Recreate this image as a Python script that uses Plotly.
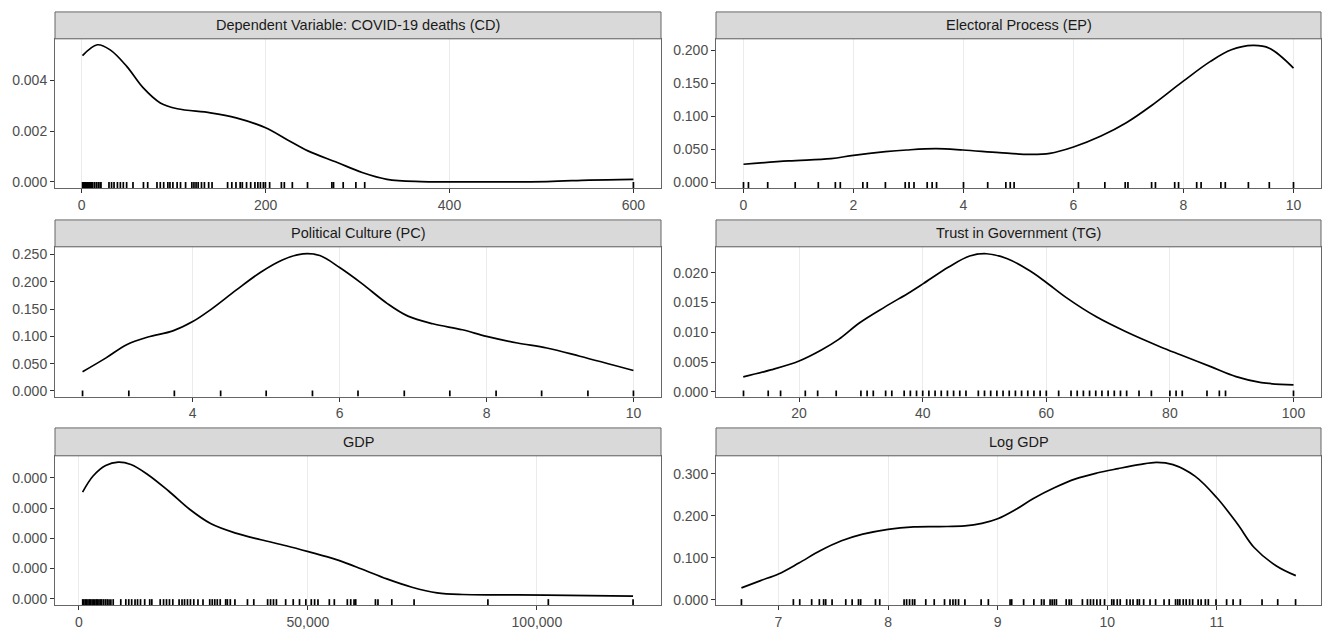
import plotly.graph_objects as go

# ---------------- data ----------------
titles = ["Dependent Variable: COVID-19 deaths (CD)", "Electoral Process (EP)",
          "Political Culture (PC)", "Trust in Government (TG)", "GDP", "Log GDP"]

cd_x = [0.9, 17, 31, 49, 67, 85.5, 104, 140, 168, 200, 223, 246, 278, 305, 332, 369, 400, 506, 552, 600]
cd_y = [0.00497, 0.0054, 0.0052, 0.00455, 0.0037, 0.00311, 0.00288, 0.00272, 0.00252, 0.00213,
        0.00167, 0.00122, 0.00076, 0.00037, 0.0001, 0.00001, 0.0, 0.00001, 0.00007, 0.0001]
cd_rug = [1, 2, 3, 4, 5, 6, 7, 8, 9, 10, 11, 12, 14, 16, 18, 20, 21,
          29.7, 32.5, 35.2, 38.9, 42.1, 45.3, 48.9, 55.8, 67.2, 71.8, 81.9, 85.5, 89.2, 93.7, 96,
          99.2, 103.8, 107.5, 113, 119.8, 122.1, 124.4, 126.7, 130.3, 133.5, 138.1, 141.8, 158.7,
          163.3, 167.8, 172.4, 174.7, 179.3, 183.8, 188.4, 191.6, 194.4, 197.6, 199.8, 204.4,
          217.2, 220.4, 229.1, 245.6, 272.1, 273.9, 284.4, 298.2, 307.8, 600]

ep_x = [0, 0.82, 1.59, 2.0, 2.58, 2.97, 3.5, 3.99, 4.65, 5.19, 5.57, 6.0, 6.5, 6.96, 7.42, 7.99,
        8.49, 8.87, 9.26, 9.56, 10.0]
ep_y = [0.0272, 0.0322, 0.0358, 0.0408, 0.0463, 0.0489, 0.0509, 0.0489, 0.0448, 0.0423, 0.0438,
        0.0534, 0.070, 0.0902, 0.1164, 0.153, 0.1834, 0.201, 0.2076, 0.2035, 0.1733]
ep_rug = [0, 0.09, 0.44, 0.94, 1.36, 1.67, 1.76, 2.17, 2.25, 2.58, 2.94, 3.01, 3.10, 3.34, 3.43,
          3.51, 4.0, 4.44, 4.77, 4.85, 4.92, 6.09, 6.57, 6.94, 6.99, 7.42, 7.49, 7.84, 7.91, 8.24,
          8.32, 8.68, 8.76, 9.18, 9.56, 10.0]

pc_x = [2.50, 2.82, 3.10, 3.39, 3.73, 4.0, 4.25, 4.59, 4.93, 5.22, 5.50, 5.73, 6.0, 6.30, 6.65,
        6.93, 7.27, 7.67, 8.0, 8.42, 8.82, 9.27, 10.0]
pc_y = [0.0351, 0.0605, 0.0847, 0.0987, 0.110, 0.127, 0.1495, 0.1846, 0.218, 0.240, 0.251, 0.248,
        0.226, 0.197, 0.160, 0.137, 0.123, 0.112, 0.0999, 0.0878, 0.0787, 0.0636, 0.0375]
pc_rug = [2.50, 3.13, 3.75, 4.38, 5.00, 5.63, 6.25, 6.88, 7.50, 8.13, 8.75, 9.38, 10.00]

tg_x = [10.96, 15.4, 20.0, 23.6, 26.4, 29.8, 33.9, 38.0, 40.1, 44.2, 47.6, 50.3, 53.7, 57.2, 59.9,
        63.3, 68.1, 72.9, 78.4, 81.8, 86.6, 90.7, 94.8, 100]
tg_y = [0.0025, 0.00368, 0.00518, 0.00702, 0.0088, 0.01159, 0.01426, 0.01677, 0.01816, 0.02095,
        0.02279, 0.02318, 0.02234, 0.02039, 0.01844, 0.01577, 0.01259, 0.01008, 0.00758, 0.00618,
        0.00423, 0.00256, 0.00156, 0.00117]
tg_rug = [11, 15, 17, 21, 23, 26, 30, 31, 32, 34, 35, 37, 38, 39, 40, 41, 42, 43, 44, 45, 46, 47,
          49, 50, 51, 52, 53, 54, 55, 56, 57, 58, 59, 60, 62, 64, 65, 66, 67, 68, 69, 70, 71, 72,
          73, 75, 77, 80, 81, 82, 86, 88, 89, 100]

gdp_x = [824, 3114, 5862, 8610, 11360, 15020, 19600, 24180, 28760, 34260, 39750, 45250, 50100,
         56240, 61740, 67230, 72730, 78220, 83720, 92880, 102040, 121000]
gdp_y = [1.765e-5, 2.03e-5, 2.204e-5, 2.259e-5, 2.22e-5, 2.056e-5, 1.782e-5, 1.48e-5, 1.245e-5,
         1.086e-5, 9.76e-6, 8.77e-6, 7.79e-6, 6.47e-6, 4.93e-6, 3.29e-6, 1.92e-6, 9.9e-7, 7.1e-7,
         6.6e-7, 6.0e-7, 4.4e-7]
gdp_rug = [850, 1100, 1400, 1700, 2000, 2300, 2600, 2900, 3200, 3500, 3800, 4100, 4400, 4700,
           5000, 5400, 5800, 6200, 6600, 7000, 7510, 9160, 10260, 10900, 11540, 12270, 12820,
           13470, 14380, 15480, 15940, 17770, 18500, 19140, 19790, 20520, 21890, 22530, 23080,
           23720, 24370, 25100, 26010, 27110, 28580, 29130, 29680, 30230, 30870, 32060, 32430,
           33070, 34080, 36820, 38200, 41220, 41860, 42500, 43140, 45160, 46810, 48180, 49560,
           50750, 51480, 52210, 54690, 55780, 58620, 59360, 60090, 60450, 64760, 65310, 68330,
           73190, 89310, 102500, 121000]

lg_x = [6.662, 6.837, 7.0, 7.186, 7.38, 7.575, 7.769, 8.0, 8.235, 8.468, 8.70, 8.856, 9.0, 9.167,
        9.322, 9.517, 9.711, 9.905, 10.1, 10.29, 10.45, 10.6, 10.80, 11.0, 11.19, 11.34, 11.54, 11.72]
lg_y = [0.0284, 0.0458, 0.0616, 0.0876, 0.1168, 0.1405, 0.1563, 0.168, 0.1737, 0.1745, 0.176,
        0.182, 0.193, 0.2155, 0.2408, 0.2668, 0.288, 0.302, 0.3126, 0.322, 0.3276, 0.322, 0.2945,
        0.243, 0.18, 0.1247, 0.0813, 0.0576]
lg_rug = [6.662, 7.136, 7.194, 7.303, 7.373, 7.412, 7.431, 7.489, 7.614, 7.672, 7.730, 7.750,
          7.885, 7.924, 8.146, 8.169, 8.196, 8.223, 8.243, 8.344, 8.421, 8.515, 8.565, 8.592,
          8.616, 8.643, 8.701, 8.849, 8.915, 9.113, 9.128, 9.237, 9.330, 9.400, 9.423, 9.478,
          9.497, 9.517, 9.536, 9.625, 9.652, 9.672, 9.773, 9.819, 9.847, 9.874, 9.905, 9.936,
          9.975, 10.041, 10.06, 10.091, 10.118, 10.177, 10.208, 10.235, 10.274, 10.293, 10.332,
          10.39, 10.441, 10.518, 10.565, 10.623, 10.643, 10.662, 10.693, 10.72, 10.751, 10.779,
          10.829, 10.856, 10.895, 10.922, 10.992, 11.089, 11.148, 11.214, 11.412, 11.555, 11.718]

x_ticks = [[0, 200, 400, 600], [0, 2, 4, 6, 8, 10], [4, 6, 8, 10], [20, 40, 60, 80, 100],
           [0, 50000, 100000], [7, 8, 9, 10, 11]]
y_ticks = [[0, 0.002, 0.004], [0, 0.05, 0.1, 0.15, 0.2], [0, 0.05, 0.1, 0.15, 0.2, 0.25],
           [0, 0.005, 0.01, 0.015, 0.02], [0, 5e-6, 1e-5, 1.5e-5, 2e-5], [0, 0.1, 0.2, 0.3]]

# ---------------- layout settings ----------------
curves = [(cd_x, cd_y, cd_rug), (ep_x, ep_y, ep_rug), (pc_x, pc_y, pc_rug),
          (tg_x, tg_y, tg_rug), (gdp_x, gdp_y, gdp_rug), (lg_x, lg_y, lg_rug)]
x_ranges = [[-29, 630], [-0.5, 10.5], [2.125, 10.375], [6.55, 104.45], [-5200, 127100], [6.43, 11.95]]
y_ranges = [[-0.000247, 0.005635], [-0.009, 0.2177], [-0.0104, 0.264], [-0.0008, 0.02434],
            [-1.04e-6, 2.364e-5], [-0.0126, 0.343]]
x_fmt = ["d", "d", "d", "d", ",d", "d"]

W, H = 1325, 630
col_dom = [[55 / W, 661 / W], [716 / W, 1321 / W]]
row_px = [(39, 189, 12), (248, 398.5, 221), (458, 608, 430)]  # plot top, plot bottom, strip top

FONT = "Liberation Sans, Arial, sans-serif"
fig = go.Figure()
layout = dict(width=W, height=H, margin=dict(l=0, r=0, t=0, b=0), showlegend=False,
              paper_bgcolor="white", plot_bgcolor="white", font=dict(family=FONT),
              shapes=[], annotations=[])

for i, (cx, cy, rug) in enumerate(curves):
    k = i + 1
    r, c = divmod(i, 2)
    top, bot, stop = row_px[r]
    ydom = [1 - bot / H, 1 - top / H]
    xs = "" if k == 1 else str(k)
    yr = y_ranges[i]
    fig.add_trace(go.Scatter(x=cx, y=cy, mode="lines",
                             line=dict(color="black", width=1.7, shape="spline", smoothing=1.0),
                             xaxis="x" + xs, yaxis="y" + xs, hoverinfo="skip"))
    # rug marks
    rx, ry = [], []
    y0 = yr[0]
    y1 = yr[0] + 0.04 * (yr[1] - yr[0])
    for v in rug:
        rx += [v, v, None]
        ry += [y0, y1, None]
    fig.add_trace(go.Scatter(x=rx, y=ry, mode="lines", line=dict(color="black", width=1.7),
                             xaxis="x" + xs, yaxis="y" + xs, hoverinfo="skip"))
    layout["xaxis" + xs] = dict(domain=col_dom[c], anchor="y" + xs, range=x_ranges[i],
                                tickvals=x_ticks[i], tickformat=x_fmt[i], showgrid=True,
                                gridcolor="#EBEBEB", gridwidth=1, zeroline=False,
                                showline=True, mirror=True, linecolor="#666666", linewidth=1,
                                ticks="outside", ticklen=4, tickcolor="#333333",
                                tickfont=dict(size=14, color="#4D4D4D", family=FONT))
    layout["yaxis" + xs] = dict(domain=ydom, anchor="x" + xs, range=yr, tickvals=y_ticks[i],
                                tickformat=".3f", showgrid=False, zeroline=False,
                                showline=True, mirror=True, linecolor="#666666", linewidth=1,
                                ticks="outside", ticklen=4, tickcolor="#333333",
                                tickfont=dict(size=14, color="#4D4D4D", family=FONT))
    # strip
    layout["shapes"].append(dict(type="rect", xref="paper", yref="paper",
                                 x0=col_dom[c][0], x1=col_dom[c][1],
                                 y0=1 - top / H, y1=1 - stop / H,
                                 fillcolor="#D9D9D9", line=dict(color="#666666", width=1)))
    layout["annotations"].append(dict(xref="paper", yref="paper",
                                      x=(col_dom[c][0] + col_dom[c][1]) / 2,
                                      y=1 - (top + stop) / 2 / H, text=titles[i], showarrow=False,
                                      font=dict(size=14.5, color="#1A1A1A", family=FONT),
                                      xanchor="center", yanchor="middle"))

fig.update_layout(**layout)
fig.write_html("out.html")
